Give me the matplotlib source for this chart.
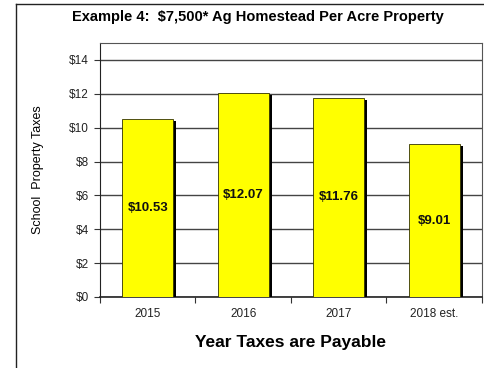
import matplotlib
matplotlib.use("Agg")
from matplotlib import pyplot as plt
from matplotlib import patheffects as pe
from matplotlib.lines import Line2D

# school property taxes per acre, by year payable
years = ["2015", "2016", "2017", "2018 est."]
taxes = [10.53, 12.07, 11.76, 9.01]
y_ticks = [0, 2, 4, 6, 8, 10, 12, 14]

plt.rcParams['font.family'] = ['Liberation Sans', 'DejaVu Sans']


def main():
    fig = plt.figure(figsize=(4.85, 3.68), dpi=100)
    fig.patch.set_facecolor("white")

    # outer chart frame (left and top edges)
    fig.add_artist(Line2D([16 / 485, 16 / 485], [0, 1 - 3.5 / 368],
                          transform=fig.transFigure, color="#222222", lw=1.0))
    fig.add_artist(Line2D([16 / 485, 1], [1 - 3.5 / 368, 1 - 3.5 / 368],
                          transform=fig.transFigure, color="#222222", lw=1.0))

    ax = fig.add_axes([100 / 485, 71 / 368, 382 / 485, 254 / 368])

    x = list(range(len(years)))
    shadow = [pe.SimplePatchShadow(offset=(2.4, -1.4), shadow_rgbFace="black", alpha=1.0),
              pe.Normal()]
    bars = ax.bar(x, taxes, width=0.53, color="#FFFF00", edgecolor="#333300",
                  linewidth=0.6, zorder=3)
    for b in bars:
        b.set_path_effects(shadow)

    for xi, v in zip(x, taxes):
        ax.text(xi, v / 2, "\\${:.2f}".format(v), ha="center", va="center",
                fontsize=9.5, fontweight="bold", color="#111111", zorder=4)

    ax.set_xlim(-0.5, len(years) - 0.5)
    ax.set_ylim(0, 15)

    ax.set_yticks(y_ticks)
    ax.set_yticklabels(["\\${}".format(t) for t in y_ticks], fontsize=8.5, color="#222222")
    ax.yaxis.grid(True, color="#444444", lw=1.0, zorder=1)
    ax.set_axisbelow(True)

    # tick marks between categories, labels under the bars
    ax.set_xticks([i - 0.5 for i in range(len(years) + 1)])
    ax.set_xticklabels([])
    ax.set_xticks(x, minor=True)
    ax.set_xticklabels(years, minor=True, fontsize=8.5, color="#222222")
    ax.tick_params(axis="x", which="major", length=4, width=0.8, color="#333333", direction="out")
    ax.tick_params(axis="x", which="minor", length=0, pad=8)
    ax.tick_params(axis="y", length=4, width=0.8, color="#333333", pad=4)

    for s in ax.spines.values():
        s.set_color("#555555")
        s.set_linewidth(0.8)
    ax.spines["bottom"].set_color("#222222")
    ax.spines["bottom"].set_linewidth(1.2)
    ax.spines["left"].set_color("#222222")

    ax.set_xlabel("Year Taxes are Payable", fontsize=12.5, fontweight="bold", labelpad=11)
    ax.set_ylabel("School  Property Taxes", fontsize=9, labelpad=18)

    fig.text(258 / 485, 1 - 17 / 368, "Example 4:  \\$7,500* Ag Homestead Per Acre Property",
             ha="center", va="center", fontsize=10.5, fontweight="bold")

    fig.savefig("out.png", dpi=100)


if __name__ == "__main__":
    main()
